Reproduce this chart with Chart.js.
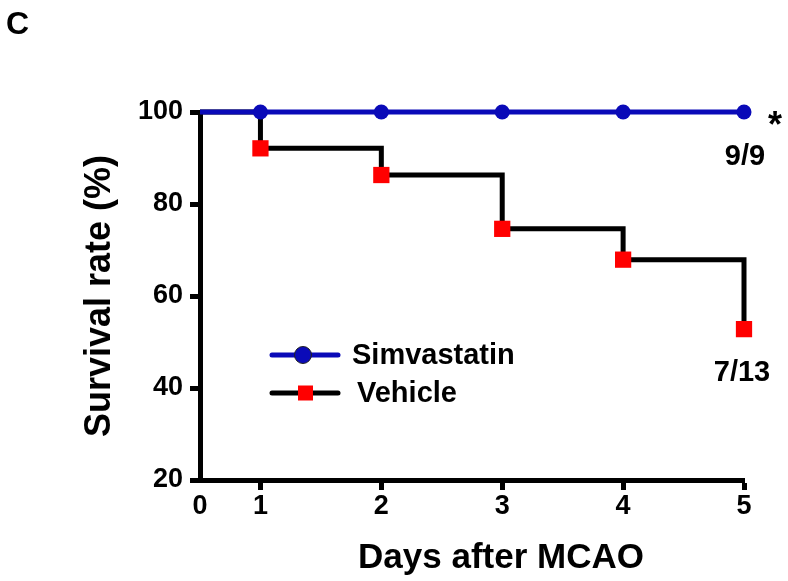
<!DOCTYPE html>
<html>
<head>
<meta charset="utf-8">
<style>
  body { margin: 0; background: #fff; }
  #wrap { width: 788px; height: 581px; }
</style>
<script src="https://cdn.jsdelivr.net/npm/chart.js@4.4.1/dist/chart.umd.min.js"></script>
</head>
<body>
<div id="wrap"><canvas id="chart"></canvas></div>
<script>
// values
const days = [0, 1, 2, 3, 4, 5];
const simvastatin = [100, 100, 100, 100, 100, 100];
const vehicle = [100, 92.1, 86.3, 74.6, 67.9, 52.8];
const xTicks = [0.5, 1, 2, 3, 4, 5];      // axis origin is drawn at 0.5 but labelled 0
const xTickLabels = ['0', '1', '2', '3', '4', '5'];
const yTicks = [20, 40, 60, 80, 100];
const seriesNames = ['Simvastatin', 'Vehicle'];
const endCounts = ['9/9', '7/13'];

const FONT = '"Liberation Sans", Arial, sans-serif';
const BLUE = '#0a0ab8';
const RED = '#ff0000';

Chart.defaults.font.family = FONT;
Chart.defaults.color = '#000';

const markerSize = (r) => days.map(d => d === 0 ? 0 : r);

// text bits + legend drawn by hand
const extras = {
  id: 'extras',
  afterDraw(chart) {
    const ctx = chart.ctx;
    const xs = chart.scales.x, ys = chart.scales.y;
    ctx.save();
    ctx.fillStyle = '#000';
    ctx.textBaseline = 'alphabetic';

    ctx.font = 'bold 32px ' + FONT;
    ctx.textAlign = 'left';
    ctx.fillText('C', 6, 34);

    ctx.font = 'bold 35px ' + FONT;
    ctx.textAlign = 'center';
    ctx.fillText('Days after MCAO', 501, 568);

    const last = days.length - 1;
    const xEnd = xs.getPixelForValue(days[last]);
    ctx.font = 'bold 29px ' + FONT;
    ctx.fillText(endCounts[0], xEnd + 1, ys.getPixelForValue(simvastatin[last]) + 53);
    ctx.fillText(endCounts[1], xEnd - 2, ys.getPixelForValue(vehicle[last]) + 52);
    ctx.font = 'bold 36px ' + FONT;
    ctx.fillText('*', xEnd + 31, ys.getPixelForValue(simvastatin[last]) + 25);

    // legend
    const rows = [355, 393];
    ctx.lineWidth = 5;
    ctx.lineCap = 'round';
    rows.forEach((ry, i) => {
      ctx.strokeStyle = i === 0 ? BLUE : '#000';
      ctx.beginPath();
      ctx.moveTo(272, ry);
      ctx.lineTo(338, ry);
      ctx.stroke();
      if (i === 0) {
        ctx.fillStyle = BLUE;
        ctx.beginPath();
        ctx.arc(303, ry, 8.5, 0, Math.PI * 2);
        ctx.fill();
        ctx.lineWidth = 1;
        ctx.strokeStyle = '#222';
        ctx.stroke();
        ctx.lineWidth = 5;
      } else {
        ctx.fillStyle = RED;
        ctx.fillRect(298, ry - 7.5, 15, 15);
      }
      ctx.fillStyle = '#000';
      ctx.font = 'bold 29px ' + FONT;
      ctx.textAlign = 'left';
      ctx.textBaseline = 'middle';
      ctx.fillText(seriesNames[i], i === 0 ? 352 : 357, ry + 1);
    });
    ctx.restore();
  }
};

new Chart(document.getElementById('chart'), {
  type: 'line',
  data: {
    labels: days,
    datasets: [
      {
        label: seriesNames[0],
        data: days.map((d, i) => ({ x: d, y: simvastatin[i] })),
        borderColor: BLUE,
        backgroundColor: BLUE,
        borderWidth: 5,
        pointRadius: markerSize(7.5),
        pointBorderWidth: 0,
        pointBackgroundColor: BLUE,
        fill: false,
        clip: { left: 0, top: 14, right: 14, bottom: 14 }
      },
      {
        label: seriesNames[1],
        data: days.map((d, i) => ({ x: d, y: vehicle[i] })),
        stepped: 'before',
        borderColor: '#000',
        backgroundColor: RED,
        borderWidth: 5,
        pointStyle: 'rect',
        pointRadius: markerSize(11.5),
        pointBorderWidth: 0,
        pointBackgroundColor: RED,
        fill: false,
        clip: { left: 0, top: 14, right: 14, bottom: 14 }
      }
    ]
  },
  options: {
    responsive: true,
    maintainAspectRatio: false,
    animation: false,
    layout: { padding: { top: 112, right: 44, left: 0, bottom: 0 } },
    plugins: {
      legend: { display: false },
      tooltip: { enabled: false }
    },
    scales: {
      x: {
        type: 'linear',
        min: xTicks[0],
        max: xTicks[xTicks.length - 1],
        afterBuildTicks: (s) => { s.ticks = xTicks.map(v => ({ value: v })); },
        afterFit: (s) => { s.height = 101; },
        ticks: {
          font: { size: 27, weight: 'bold' },
          color: '#000',
          padding: 0,
          maxRotation: 0,
          autoSkip: false,
          callback: (v) => xTickLabels[xTicks.indexOf(v)]
        },
        grid: {
          drawOnChartArea: false,
          tickLength: 10,
          tickWidth: 5,
          tickColor: (c) => c.index === 0 ? 'rgba(0,0,0,0)' : '#000'
        },
        border: { display: true, width: 5, color: '#000' }
      },
      y: {
        min: yTicks[0],
        max: yTicks[yTicks.length - 1],
        afterBuildTicks: (s) => { s.ticks = yTicks.map(v => ({ value: v })); },
        afterFit: (s) => { s.width = 200; },
        ticks: {
          font: { size: 27, weight: 'bold' },
          color: '#000',
          padding: 7
        },
        grid: {
          drawOnChartArea: false,
          tickLength: 10,
          tickWidth: 5,
          tickColor: '#000'
        },
        border: { display: true, width: 5, color: '#000' },
        title: {
          display: true,
          text: 'Survival rate (%)',
          font: { size: 36, weight: 'bold' },
          color: '#000',
          padding: { top: 78, bottom: 0 }
        }
      }
    }
  },
  plugins: [extras]
});
</script>
</body>
</html>
